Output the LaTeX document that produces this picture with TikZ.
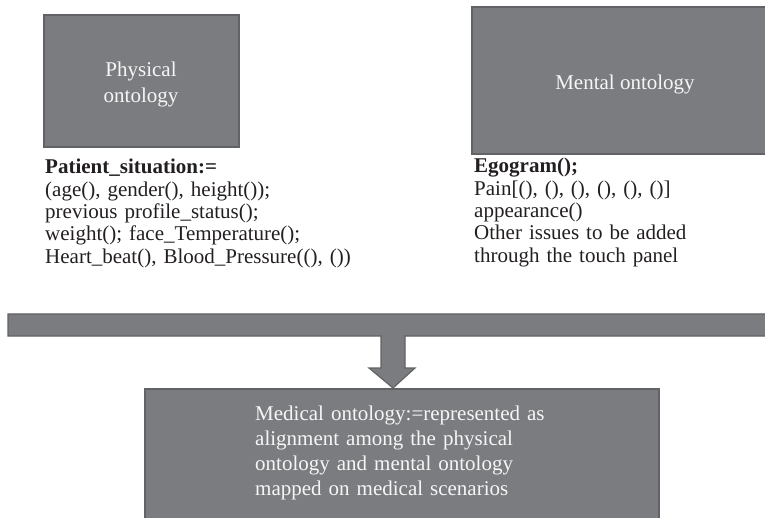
\documentclass[tikz,border=0pt]{standalone}
\usepackage{fontspec}
\setmainfont{Liberation Serif}
\definecolor{boxfill}{RGB}{123,124,128}
\definecolor{boxedge}{RGB}{98,99,103}
\definecolor{boxtext}{RGB}{246,246,246}
\definecolor{ink}{RGB}{35,31,32}
\tikzset{
  graybox/.style={draw=boxedge, fill=boxfill, line width=1.6pt, inner sep=0pt},
  intext/.style={text=boxtext, inner sep=0pt},
  desc/.style={text=ink, inner sep=0pt, align=left, anchor=base west,
    font=\fontsize{21}{22.3}\selectfont},
}
\begin{document}
\begin{tikzpicture}[x=1pt,y=-1pt]
\useasboundingbox (0,0) rectangle (765,518);

% ontology boxes
\node[graybox, minimum width=195pt, minimum height=132pt] (phys) at (141.5,81) {};
\node[graybox, minimum width=300pt, minimum height=147pt] (ment) at (622,80.5) {};

\node[intext, anchor=base, align=center, text width=180pt,
  font=\fontsize{21}{26}\selectfont] (physlbl) at (141,77) {Physical\\ontology};
\node[intext, anchor=base, font=\fontsize{21}{26}\selectfont] (mentlbl) at (625,90) {Mental ontology};

% attribute lists
\node[desc, text width=330pt] (physdesc) at (45,174)
  {\textbf{Patient\_situation:=}\\
   (age(), gender(), height());\\
   previous profile\_status();\\
   weight(); face\_Temperature();\\
   Heart\_beat(), Blood\_Pressure((), ())};
\node[desc, text width=290pt] (mentdesc) at (474,173)
  {\textbf{Egogram();}\\
   Pain[(), (), (), (), (), ()]\\
   appearance()\\
   Other issues to be added\\
   through the touch panel};

% merging bar with its downward arrow
\coordinate (tip) at (393,388);
\draw[boxedge, fill=boxfill, line width=1.2pt, line join=miter]
  (8,314) -- (775,314) -- (775,336) -- (405,336) -- (405,368) -- (415,368)
  -- (tip) -- (369,368) -- (381,368) -- (381,336) -- (8,336) -- cycle;

% aligned ontology box
\node[graybox, anchor=north west, minimum width=514pt, minimum height=150pt] (med) at (144,388) {};
\node[intext, anchor=base west, align=left, text width=400pt,
  font=\fontsize{21}{25}\selectfont] (medlbl) at (255,420)
  {Medical ontology:=represented as\\
   alignment among the physical\\
   ontology and mental ontology\\
   mapped on medical scenarios};
\end{tikzpicture}
\end{document}
